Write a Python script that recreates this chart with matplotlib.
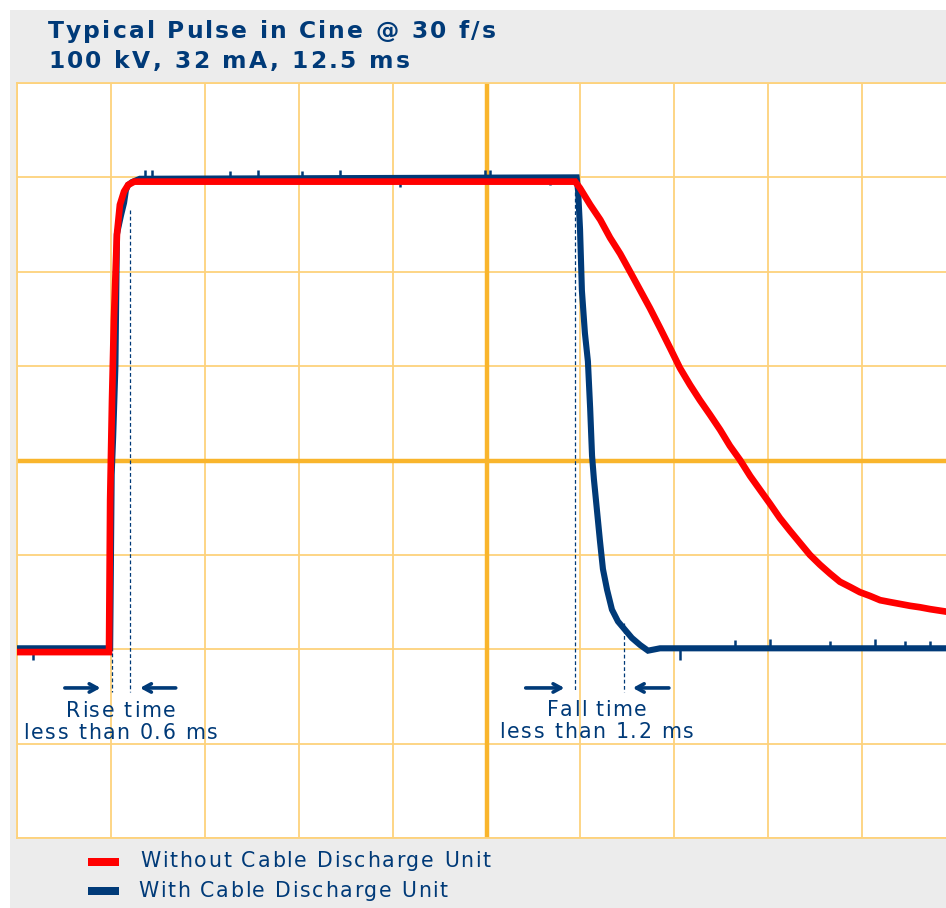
import matplotlib
matplotlib.use("Agg")
import matplotlib.pyplot as plt
from matplotlib.patches import Rectangle
from matplotlib.font_manager import FontProperties, findfont, get_font

# time in ms, voltage in kV (2.5 ms/div, 20 kV/div)
without_t = [0, 2.45, 2.48, 2.53, 2.58, 2.66, 2.74, 2.85, 2.96, 3.12, 14.86, 14.99, 15.26, 15.53,
             15.79, 16.06, 16.33, 16.59, 16.85, 17.12, 17.39, 17.65, 17.92, 18.18, 18.45, 18.72,
             18.98, 19.25, 19.52, 19.78, 20.05, 20.31, 20.58, 20.85, 21.11, 21.38, 21.65, 21.91,
             22.18, 22.44, 22.71, 22.98, 23.24, 23.51, 23.78, 24.04, 24.31, 24.8]
without_kv = [-0.6, -0.6, 31.6, 52.8, 69.8, 87.8, 94.2, 97.0, 98.4, 99.1, 99.1, 97.7, 94.2, 91.0,
              87.2, 83.8, 79.9, 76.1, 72.3, 68.1, 63.8, 59.6, 56.0, 52.8, 49.7, 46.5,
              43.1, 40.1, 36.7, 33.8, 30.8, 27.8, 25.1, 22.5, 20.0, 17.9, 16.0, 14.3,
              13.2, 12.1, 11.3, 10.4, 10.0, 9.6, 9.2, 8.9, 8.5, 7.9]

with_t = [0, 2.48, 2.52, 2.56, 2.62, 2.66, 2.77, 2.85, 2.90, 2.96, 3.06, 3.27, 14.90, 14.94,
          14.99, 15.04, 15.12, 15.20, 15.26, 15.31, 15.36, 15.44, 15.52, 15.60, 15.71, 15.84,
          16.00, 16.19, 16.37, 16.59, 16.80, 17.12, 24.8]
with_kv = [0.2, 0.2, 37, 45, 60, 88, 92, 94.6, 97.3, 98.4, 99.0, 99.7, 100, 97,
           89, 76, 67, 61, 51, 41, 36, 29.5, 23, 17, 12.6, 8.4,
           5.9, 4.1, 2.4, 0.9, -0.3, 0.2, 0.2]

# little noise ticks on the blue trace: (time, base, tip)
spike_t = [0.43, 3.41, 3.59, 5.67, 6.42, 7.59, 8.60, 10.20, 12.46, 12.59, 14.19,
           17.65, 19.12, 20.05, 21.65, 22.84, 23.64, 24.31]
spike_base = [0.2, 100, 100, 100, 100, 100, 100, 100, 100, 100, 100,
              0.2, 0.2, 0.2, 0.2, 0.2, 0.2, 0.2]
spike_tip = [-2.3, 101.5, 101.5, 101.4, 101.5, 101.4, 101.5, 98.0, 101.6, 101.5, 98.3,
             -2.2, 2.0, 2.2, 1.8, 2.2, 1.8, 1.7]

title_lines = ["Typical Pulse in Cine @ 30 f/s", "100 kV, 32 mA, 12.5 ms"]
legend_labels = ["Without Cable Discharge Unit", "With Cable Discharge Unit"]

RED = "#ff0000"
NAVY = "#003a78"
GRID = "#fdd27c"
GRID_BOLD = "#f9b52c"
BG = "#ececec"

W, H = 946, 908
fig = plt.figure(figsize=(W / 100, H / 100), dpi=100)
fig.patch.set_facecolor("white")
fig.patches.append(Rectangle((10 / W, 0), 1, 1 - 10 / H, transform=fig.transFigure,
                             facecolor=BG, edgecolor="none", zorder=-10))


def spaced_text(x_px, y_px, s, width_px, size, bold=False, ha="left"):
    # the original uses a wide, letter-spaced font; spread DejaVu glyphs to the same width
    fp = FontProperties(family="DejaVu Sans", weight="bold" if bold else "normal")
    font = get_font(findfont(fp))
    font.set_size(size, 100)
    adv = [font.load_char(ord(c)).linearHoriAdvance / 65536 for c in s]
    natural = sum(adv[:-1]) + adv[-1] * 0.9
    gap = (width_px - natural) / (len(s) - 1)
    x = x_px - width_px / 2 if ha == "center" else x_px
    for c, a in zip(s, adv):
        if c != " ":
            fig.text(x / W, 1 - y_px / H, c, fontproperties=fp, fontsize=size,
                     color=NAVY, va="baseline", ha="left")
        x += a + gap


ax = fig.add_axes([17 / W, 1 - 838 / H, 939 / W, 755 / H])
ax.set_facecolor("white")
ax.set_xlim(0, 25)
ax.set_ylim(-40, 120)
ax.set_xticks([i * 2.5 for i in range(11)])
ax.set_yticks([-40 + i * 20 for i in range(9)])
ax.tick_params(length=0, labelbottom=False, labelleft=False)
ax.grid(True, color=GRID, lw=1.3, zorder=0)
ax.set_axisbelow(True)
for s in ax.spines.values():
    s.set_color(GRID)
    s.set_linewidth(1.3)
ax.axvline(12.5, color=GRID_BOLD, lw=3.2, zorder=1)
ax.axhline(40, color=GRID_BOLD, lw=3.2, zorder=1)

ax.plot(with_t, with_kv, color=NAVY, lw=4.4, zorder=3, solid_joinstyle="miter")
ax.vlines(spike_t, spike_base, spike_tip, color=NAVY, lw=1.8, zorder=3)
ax.plot(without_t, without_kv, color=RED, lw=4.8, zorder=4, solid_joinstyle="miter")

# dashed markers for rise/fall time
dash = dict(color=NAVY, lw=0.9, ls=(0, (3, 2)), zorder=5)
ax.plot([2.54, 2.54], [-0.8, -9.0], **dash)
ax.plot([3.01, 3.01], [93.0, -9.0], **dash)
ax.plot([14.86, 14.86], [97.0, -9.0], **dash)
ax.plot([16.16, 16.16], [5.5, -9.0], **dash)

arr = dict(arrowstyle="->,head_length=0.55,head_width=0.3", color=NAVY, lw=2.6)
ay = -8.2
ax.annotate("", xy=(2.30, ay), xytext=(1.20, ay), arrowprops=arr)
ax.annotate("", xy=(3.20, ay), xytext=(4.30, ay), arrowprops=arr)
ax.annotate("", xy=(14.65, ay), xytext=(13.47, ay), arrowprops=arr)
ax.annotate("", xy=(16.32, ay), xytext=(17.43, ay), arrowprops=arr)

spaced_text(120, 717, "Rise time", 108, 14.8, ha="center")
spaced_text(120, 739, "less than 0.6 ms", 193, 14.8, ha="center")
spaced_text(596, 716, "Fall time", 98, 14.8, ha="center")
spaced_text(596, 738, "less than 1.2 ms", 193, 14.8, ha="center")

# title
spaced_text(48, 38, title_lines[0], 446, 16.8, bold=True)
spaced_text(48, 68, title_lines[1], 360, 16.8, bold=True)

# legend
for i, (lab, col) in enumerate(zip(legend_labels, [RED, NAVY])):
    yc = 862 + 29 * i
    fig.patches.append(Rectangle((88 / W, 1 - (yc + 4) / H), 31 / W, 8 / H,
                                 transform=fig.transFigure, facecolor=col, edgecolor="none"))
spaced_text(140, 867, legend_labels[0], 350, 14.8)
spaced_text(138, 897, legend_labels[1], 309, 14.8)

fig.savefig("out.png", dpi=100, facecolor=fig.get_facecolor())
